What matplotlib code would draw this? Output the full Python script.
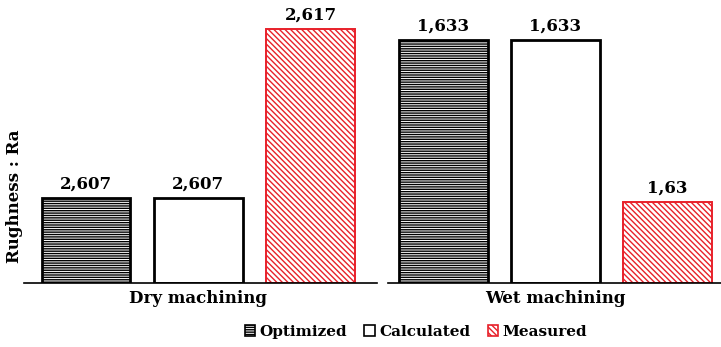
import matplotlib
matplotlib.use("Agg")
import matplotlib.pyplot as plt
from matplotlib.patches import Patch

# Surface roughness Ra for each machining condition
conditions = ["Dry machining", "Wet machining"]
series = ["Optimized", "Calculated", "Measured"]
dry_values = [2.607, 2.607, 2.617]
wet_values = [1.633, 1.633, 1.63]
# each panel starts its bars from its own baseline
dry_ylim = (2.602, 2.6187)
wet_ylim = (1.6285, 1.63375)

plt.rcParams["font.family"] = ["DejaVu Serif"]
plt.rcParams["font.weight"] = "bold"
plt.rcParams["hatch.linewidth"] = 1.0

styles = [
    dict(facecolor="white", edgecolor="black", hatch="-------", linewidth=2.0),
    dict(facecolor="white", edgecolor="black", hatch=None, linewidth=2.0),
    dict(facecolor="white", edgecolor="#e8202a", hatch="\\\\\\\\\\\\", linewidth=1.4),
]

W, H = 721, 347
fig = plt.figure(figsize=(W / 100, H / 100), dpi=100)

base_px = 283.3
panels = [
    (dict(x0=24, x1=377), (-0.552, 2.592), dry_values, dry_ylim, conditions[0]),
    (dict(x0=388, x1=721), (-0.4955, 2.478), wet_values, wet_ylim, conditions[1]),
]

for px, xlim, values, ylim, name in panels:
    ax = fig.add_axes([px["x0"] / W, (H - base_px) / H,
                       (px["x1"] - px["x0"]) / W, base_px / H])
    xs = list(range(len(values)))
    for x, v, st in zip(xs, values, styles):
        ax.bar(x, v - ylim[0], bottom=ylim[0], width=0.79, **st, zorder=2)
        ax.annotate(f"{v:g}".replace(".", ","), (x, v), xytext=(0, 7),
                    textcoords="offset points", ha="center", va="baseline",
                    fontsize=12, fontweight="bold", annotation_clip=False)
    ax.set_xlim(*xlim)
    ax.set_ylim(*ylim)
    for s in ("top", "left", "right"):
        ax.spines[s].set_visible(False)
    ax.spines["bottom"].set_linewidth(1.2)
    ax.set_yticks([])
    ax.set_xticks([1])
    ax.set_xticklabels([name], fontsize=12, fontweight="bold")
    ax.tick_params(axis="x", length=0, pad=5)
    ax.patch.set_alpha(0)

fig.text(15 / W, (H - 196) / H, "Rughness : Ra", rotation=90,
         ha="center", va="center", fontsize=12, fontweight="bold")

handles = [Patch(label=lab, **st) for lab, st in zip(series, styles)]
for h in handles:
    h.set_linewidth(1.2)
fig.legend(handles=handles, loc="center", bbox_to_anchor=(416 / W, (H - 332) / H),
           ncol=3, frameon=False, handlelength=0.7, handleheight=0.7,
           handletextpad=0.3, columnspacing=1.1, prop=dict(size=11, weight="bold"))

fig.savefig("out.png", dpi=100, facecolor="white")
